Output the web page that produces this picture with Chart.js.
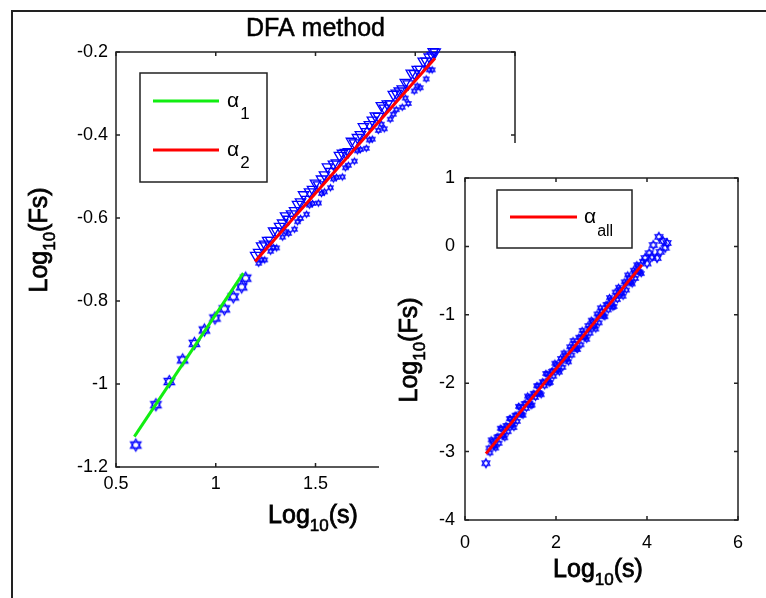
<!DOCTYPE html>
<html><head><meta charset="utf-8">
<script src="https://cdn.jsdelivr.net/npm/chart.js@4.4.1/dist/chart.umd.min.js"></script>
<style>
html,body{margin:0;padding:0;background:#fff;width:766px;height:598px;overflow:hidden;}
#frame{position:absolute;left:11px;top:10px;width:800px;height:640px;border-left:2px solid #222;border-top:2px solid #222;}
#mainWrap{position:absolute;left:0;top:0;width:766px;height:598px;}
#insetWrap{position:absolute;left:379px;top:143px;width:387px;height:455px;background:#fff;}
canvas{display:block;}
</style></head><body>
<div id="frame"></div>
<div id="mainWrap"><canvas id="main" width="766" height="598"></canvas></div>
<div id="insetWrap"><canvas id="inset" width="387" height="455"></canvas></div>
<script>
// ---------- DATA ----------
const mainTitle = 'DFA method';
const mainXTicks = [0.5, 1, 1.5, 2, 2.5];
const mainYTicks = [-1.2, -1, -0.8, -0.6, -0.4, -0.2];
const insetXTicks = [0, 2, 4, 6];
const insetYTicks = [-4, -3, -2, -1, 0, 1];

// small scales (alpha_1 region) – hexagram markers
const s1x = [0.599, 0.700, 0.767, 0.834, 0.893, 0.943, 0.996, 1.043, 1.088, 1.130, 1.150];
const s1y = [-1.147, -1.050, -0.994, -0.942, -0.902, -0.870, -0.841, -0.819, -0.790, -0.766, -0.745];
// alpha_1 fit line ends
const fit1x = [0.592, 1.138];
const fit1y = [-1.127, -0.733];

// large scales (alpha_2 region) – down triangles
const t2x = [1.20,1.23,1.26,1.29,1.32,1.35,1.38,1.41,1.44,1.47,1.50,1.53,1.56,1.59,1.62,1.65,1.68,1.71,1.74,1.77,1.80,1.83,1.86,1.89,1.92,1.95,1.98,2.01,2.04,2.07,2.09,2.10];
const t2y = [-0.690,-0.667,-0.654,-0.631,-0.620,-0.595,-0.590,-0.567,-0.544,-0.537,-0.516,-0.506,-0.477,-0.470,-0.449,-0.442,-0.415,-0.406,-0.380,-0.375,-0.354,-0.329,-0.325,-0.302,-0.294,-0.273,-0.251,-0.242,-0.222,-0.212,-0.199,-0.200];
const t3x = [1.215,1.245,1.275,1.305,1.335,1.365,1.395,1.425,1.455,1.485,1.515,1.545,1.575,1.605,1.635,1.665,1.695,1.725,1.755,1.785,1.815,1.845,1.875,1.905,1.935,1.965,1.995,2.025,2.055,2.085];
const t3y = [-0.683,-0.663,-0.654,-0.632,-0.612,-0.603,-0.582,-0.561,-0.555,-0.531,-0.520,-0.496,-0.488,-0.467,-0.444,-0.440,-0.419,-0.399,-0.392,-0.364,-0.355,-0.335,-0.325,-0.299,-0.289,-0.277,-0.252,-0.242,-0.222,-0.208];
// large scales – small star markers
const p2x = [1.215,1.245,1.275,1.305,1.335,1.365,1.395,1.425,1.455,1.485,1.515,1.545,1.575,1.605,1.635,1.665,1.695,1.725,1.755,1.785,1.815,1.845,1.875,1.905,1.935,1.965,1.995,2.025,2.055,2.085];
const p2y = [-0.709,-0.701,-0.680,-0.672,-0.646,-0.637,-0.627,-0.601,-0.591,-0.565,-0.564,-0.537,-0.527,-0.502,-0.501,-0.473,-0.463,-0.435,-0.432,-0.410,-0.389,-0.385,-0.362,-0.339,-0.333,-0.324,-0.294,-0.286,-0.265,-0.243];
const p3x = [1.23,1.29,1.35,1.41,1.47,1.53,1.59,1.65,1.71,1.77,1.83,1.89,1.95,2.01,2.07];
const p3y = [-0.701,-0.671,-0.633,-0.609,-0.569,-0.541,-0.506,-0.479,-0.438,-0.412,-0.374,-0.350,-0.311,-0.282,-0.243];
// alpha_2 fit line ends
const fit2x = [1.197, 2.099];
const fit2y = [-0.705, -0.215];

// inset: all scales
const iax = [0.6,0.7,0.8,0.9,1.0,1.1,1.2,1.3,1.4,1.5,1.6,1.7,1.8,1.9,2.0,2.1,2.2,2.3,2.4,2.5,2.6,2.7,2.8,2.9,3.0,3.1,3.2,3.3,3.4,3.5,3.6,3.7,3.8,3.9];
const iay = [-2.848,-2.788,-2.668,-2.618,-2.518,-2.468,-2.348,-2.298,-2.208,-2.148,-2.038,-1.978,-1.868,-1.828,-1.728,-1.638,-1.588,-1.468,-1.418,-1.328,-1.268,-1.158,-1.098,-0.988,-0.948,-0.848,-0.778,-0.668,-0.628,-0.518,-0.458,-0.348,-0.288,-0.218];
const ibx = [0.55,0.65,0.75,0.85,0.95,1.05,1.15,1.25,1.35,1.45,1.55,1.65,1.75,1.85,1.95,2.05,2.15,2.25,2.35,2.45,2.55,2.65,2.75,2.85,2.95,3.05,3.15,3.25,3.35,3.45,3.55,3.65,3.75,3.85];
const iby = [-3.018,-2.918,-2.878,-2.768,-2.708,-2.598,-2.558,-2.458,-2.368,-2.328,-2.208,-2.148,-2.038,-1.998,-1.898,-1.808,-1.768,-1.638,-1.588,-1.498,-1.438,-1.328,-1.268,-1.158,-1.118,-1.018,-0.928,-0.888,-0.778,-0.678,-0.638,-0.528,-0.468,-0.378];
const idx = [0.525,0.625,0.725,0.825,0.925,1.025,1.125,1.225,1.325,1.425,1.525,1.625,1.725,1.825,1.925,2.025,2.125,2.225,2.325,2.425,2.525,2.625,2.725,2.825,2.925,3.025,3.125,3.225,3.325,3.425,3.525,3.625,3.725,3.825];
const idy = [-2.948,-2.918,-2.778,-2.768,-2.638,-2.618,-2.468,-2.438,-2.298,-2.288,-2.158,-2.138,-1.988,-1.958,-1.818,-1.808,-1.678,-1.658,-1.508,-1.478,-1.338,-1.328,-1.198,-1.178,-1.028,-0.998,-0.858,-0.848,-0.718,-0.698,-0.548,-0.518,-0.378,-0.368];
const iex = [0.575,0.675,0.775,0.875,0.975,1.075,1.175,1.275,1.375,1.475,1.575,1.675,1.775,1.875,1.975,2.075,2.175,2.275,2.375,2.475,2.575,2.675,2.775,2.875,2.975,3.075,3.175,3.275,3.375,3.475,3.575,3.675,3.775,3.875];
const iey = [-2.828,-2.948,-2.658,-2.798,-2.518,-2.648,-2.338,-2.468,-2.188,-2.318,-2.038,-2.168,-1.858,-1.988,-1.708,-1.838,-1.558,-1.688,-1.378,-1.508,-1.228,-1.358,-1.078,-1.208,-0.898,-1.028,-0.748,-0.878,-0.598,-0.728,-0.418,-0.548,-0.268,-0.398];
const icx = [0.46, 3.96, 4.00, 4.05, 4.11, 4.14, 4.22, 4.26, 4.29, 4.35, 4.44, 4.40];
const icy = [-3.17, -0.17, -0.25, -0.10, -0.15, 0.02, -0.17, 0.14, -0.08, 0.08, 0.05, -0.02];
const fitAllx = [0.46, 3.89];
const fitAlly = [-3.03, -0.27];

const legendMain = [{sym:'\u03b1', sub:'1', color:'#11ee11'}, {sym:'\u03b1', sub:'2', color:'#ff0000'}];
const legendInset = [{sym:'\u03b1', sub:'all', color:'#ff0000'}];

// ---------- helpers ----------
const FONT = '"Liberation Sans", Arial, Helvetica, sans-serif';
const BLUE = '#0000ff';
const pts = (xs, ys) => xs.map((x, i) => ({x, y: ys[i]}));
function hexagram(r, lw, color) {
  const s = Math.ceil(2 * r + lw * 2 + 2);
  const c = document.createElement('canvas'); c.width = c.height = s;
  const g = c.getContext('2d'); const cx = s / 2, cy = s / 2;
  g.strokeStyle = color; g.lineWidth = lw; g.lineJoin = 'miter';
  for (const rot of [0, Math.PI]) {
    g.beginPath();
    for (let k = 0; k < 3; k++) {
      const a = rot + k * 2 * Math.PI / 3;
      const px = cx + Math.sin(a) * r, py = cy - Math.cos(a) * r;
      k ? g.lineTo(px, py) : g.moveTo(px, py);
    }
    g.closePath(); g.stroke();
  }
  return c;
}
function boldText(ctx, t, x, y, w) {
  ctx.fillText(t, x, y);
  ctx.lineWidth = w; ctx.strokeStyle = '#000'; ctx.strokeText(t, x, y);
}
function logLabel(ctx, arg, size) {
  const sub = Math.round(size * 0.68);
  ctx.textAlign = 'left'; ctx.textBaseline = 'alphabetic'; ctx.fillStyle = '#000';
  ctx.font = size + 'px ' + FONT; const w1 = ctx.measureText('Log').width; const w3 = ctx.measureText('(' + arg + ')').width;
  ctx.font = sub + 'px ' + FONT; const w2 = ctx.measureText('10').width;
  let x = -(w1 + w2 + w3) / 2;
  ctx.font = size + 'px ' + FONT; boldText(ctx, 'Log', x, 0, 0.8); x += w1;
  ctx.font = sub + 'px ' + FONT; boldText(ctx, '10', x, size * 0.32, 0.6); x += w2;
  ctx.font = size + 'px ' + FONT; boldText(ctx, '(' + arg + ')', x, 0, 0.8);
}
function drawLegend(ctx, box, items, lineX0, lineX1, rows, textX, symSize, subSize, subDy) {
  ctx.save();
  ctx.fillStyle = '#fff'; ctx.fillRect(box[0], box[1], box[2] - box[0], box[3] - box[1]);
  ctx.strokeStyle = '#222'; ctx.lineWidth = 1.5;
  ctx.strokeRect(box[0], box[1], box[2] - box[0], box[3] - box[1]);
  items.forEach((it, i) => {
    const y = rows[i];
    ctx.strokeStyle = it.color; ctx.lineWidth = 3;
    ctx.beginPath(); ctx.moveTo(lineX0, y); ctx.lineTo(lineX1, y); ctx.stroke();
    ctx.fillStyle = '#000'; ctx.textAlign = 'left'; ctx.textBaseline = 'alphabetic';
    ctx.font = symSize + 'px ' + FONT; ctx.fillText(it.sym, textX, y + 6);
    const w = ctx.measureText(it.sym).width;
    ctx.font = subSize + 'px ' + FONT; ctx.fillText(it.sub, textX + w + 1, y + 6 + subDy);
  });
  ctx.restore();
}
function boxAndTicks(chart, tickLen) {
  const {ctx, chartArea: a, scales: {x, y}} = chart;
  ctx.save();
  ctx.strokeStyle = '#222'; ctx.lineWidth = 1.5;
  ctx.strokeRect(a.left, a.top, a.right - a.left, a.bottom - a.top);
  ctx.beginPath();
  x.ticks.forEach(t => { const px = x.getPixelForValue(t.value);
    ctx.moveTo(px, a.bottom); ctx.lineTo(px, a.bottom - tickLen);
    ctx.moveTo(px, a.top); ctx.lineTo(px, a.top + tickLen); });
  y.ticks.forEach(t => { const py = y.getPixelForValue(t.value);
    ctx.moveTo(a.left, py); ctx.lineTo(a.left + tickLen, py);
    ctx.moveTo(a.right, py); ctx.lineTo(a.right - tickLen, py); });
  ctx.stroke();
  ctx.restore();
}
function axisCfg(ticks, fixed, isX, pad, fontSize) {
  return {
    type: 'linear', min: ticks[0], max: ticks[ticks.length - 1],
    afterBuildTicks: s => { s.ticks = ticks.map(v => ({value: v})); },
    ticks: {padding: pad, autoSkip: false, maxRotation: 0, color: '#000',
      font: {family: FONT, size: fontSize}, callback: v => String(v)},
    grid: {display: false, drawTicks: false}, border: {display: false},
    afterFit: s => { if (isX) s.height = fixed; else s.width = fixed; }
  };
}

Chart.defaults.font.family = FONT;

const starBig = hexagram(6, 1.3, BLUE);
const starSmall = hexagram(3.2, 1.1, BLUE);
const starMid = hexagram(4.5, 1.2, BLUE);
const triDown = {pointStyle: 'triangle', rotation: 180, pointRadius: 6, borderColor: BLUE, borderWidth: 1.3, backgroundColor: 'rgba(0,0,0,0)', order: 1, clip: false};

// ---------- main chart ----------
new Chart(document.getElementById('main'), {
  type: 'scatter',
  data: {datasets: [
    {type: 'line', data: pts(fit1x, fit1y), borderColor: legendMain[0].color, borderWidth: 3, pointRadius: 0, order: 0},
    {type: 'line', data: pts(fit2x, fit2y), borderColor: legendMain[1].color, borderWidth: 3, pointRadius: 0, order: 0},
    {data: pts(s1x, s1y), pointStyle: starBig, pointRadius: 5, order: 1, clip: false},
    Object.assign({data: pts(t2x, t2y)}, triDown),
    Object.assign({data: pts(t3x, t3y)}, triDown),
    {data: pts(p2x, p2y), pointStyle: starSmall, pointRadius: 3, order: 1, clip: false},
    {data: pts(p3x, p3y), pointStyle: starSmall, pointRadius: 3, order: 1, clip: false}
  ]},
  options: {
    responsive: false, animation: false, devicePixelRatio: 1,
    layout: {padding: {left: 0, top: 52, right: 251, bottom: 0}},
    plugins: {legend: {display: false}, tooltip: {enabled: false}},
    scales: {x: axisCfg(mainXTicks, 131, true, 6, 18), y: axisCfg(mainYTicks, 116, false, 8, 18)}
  },
  plugins: [{
    id: 'mainDeco',
    beforeDatasetsDraw(chart) { boxAndTicks(chart, 4); },
    afterDraw(chart) {
      const ctx = chart.ctx;
      ctx.save();
      ctx.fillStyle = '#000'; ctx.textAlign = 'center'; ctx.textBaseline = 'alphabetic';
      ctx.font = '25px ' + FONT; boldText(ctx, mainTitle, (chart.chartArea.left + chart.chartArea.right) / 2, 36, 0.5);
      ctx.restore();
      ctx.save(); ctx.translate(313, 523); logLabel(ctx, 's', 25); ctx.restore();
      ctx.save(); ctx.translate(47, 240); ctx.rotate(-Math.PI / 2); logLabel(ctx, 'Fs', 25); ctx.restore();
      drawLegend(ctx, [140, 73, 267, 182], legendMain, 153, 219, [101, 150], 227, 21, 17, 12);
    }
  }]
});

// ---------- inset chart ----------
new Chart(document.getElementById('inset'), {
  type: 'scatter',
  data: {datasets: [
    {type: 'line', data: pts(fitAllx, fitAlly), borderColor: legendInset[0].color, borderWidth: 3, pointRadius: 0, order: 0},
    {data: pts(iax, iay), pointStyle: starSmall, pointRadius: 3, order: 1, clip: false},
    {data: pts(ibx, iby), pointStyle: starSmall, pointRadius: 3, order: 1, clip: false},
    {data: pts(idx, idy), pointStyle: starSmall, pointRadius: 3, order: 1, clip: false},
    {data: pts(iex, iey), pointStyle: starSmall, pointRadius: 3, order: 1, clip: false},
    {data: pts(icx, icy), pointStyle: starMid, pointRadius: 4, order: 1, clip: false}
  ]},
  options: {
    responsive: false, animation: false, devicePixelRatio: 1,
    layout: {padding: {left: 0, top: 35, right: 28, bottom: 0}},
    plugins: {legend: {display: false}, tooltip: {enabled: false}},
    scales: {x: axisCfg(insetXTicks, 78, true, 12, 18), y: axisCfg(insetYTicks, 86, false, 10, 18)}
  },
  plugins: [{
    id: 'insetDeco',
    beforeDatasetsDraw(chart) { boxAndTicks(chart, 4); },
    afterDraw(chart) {
      const ctx = chart.ctx;
      ctx.save(); ctx.translate(219, 434); logLabel(ctx, 's', 25); ctx.restore();
      ctx.save(); ctx.translate(38, 207); ctx.rotate(-Math.PI / 2); logLabel(ctx, 'Fs', 25); ctx.restore();
      drawLegend(ctx, [118, 47, 253, 105], legendInset, 131, 198, [74], 205, 21, 16, 13);
    }
  }]
});
</script>
</body></html>
